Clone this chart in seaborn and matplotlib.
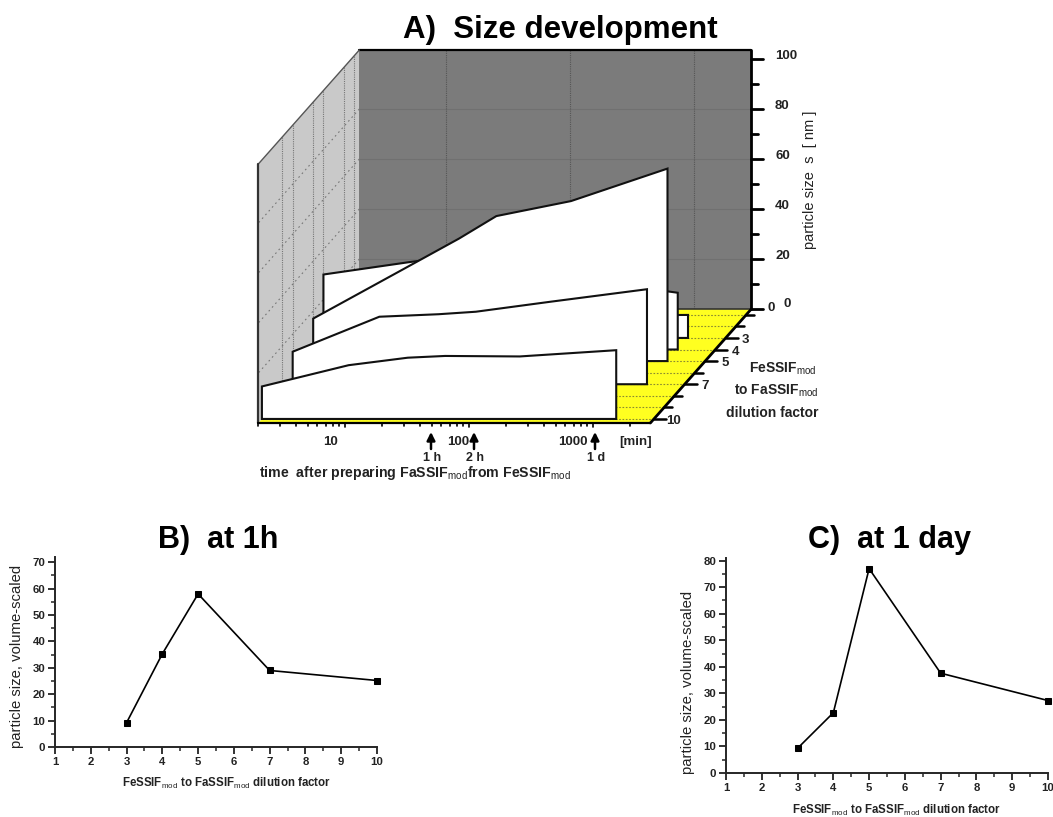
from matplotlib import pyplot as plt
import seaborn as sns
import pandas as pd
import numpy as np

# panel A: particle size over time for each dilution factor
times = [2, 10, 30, 60, 240, 1440]
size_dil3 = [9, 9, 9, 9, 9, 9.2]
size_dil4 = [30, 35, 38, 35, 28, 22.7]
size_dil5 = [17, 36, 49, 58, 64, 77]
size_dil7 = [13, 27, 28, 29, 33, 38]
size_dil10 = [13, 21.5, 24.5, 25.2, 25, 27.5]
dilutions = [3, 4, 5, 7, 10]

# panels B and C
factor = [3, 4, 5, 7, 10]
size_1h = [9.2, 35.3, 58, 29, 25.2]
size_1d = [9.3, 22.7, 77, 37.6, 27.3]

sns.set_style("ticks")
plt.rcParams["font.family"] = ["Liberation Sans", "DejaVu Sans"]
plt.rcParams["mathtext.fontset"] = "custom"
plt.rcParams["mathtext.rm"] = "Liberation Sans"
plt.rcParams["mathtext.bf"] = "Liberation Sans:bold"

T_MIN, T_MAX = 2, 2900
F_BACK, F_FRONT = 0.5, 10.35
S_MAX = 103.6
INK = "#222222"


def project(t, f, s):
    # oblique view of the time / dilution / size box, in figure pixels
    d = (np.asarray(f, dtype=float) - F_BACK) / (F_FRONT - F_BACK)
    x = 446 + 124 * (np.log10(t) - 1) - 101 * d
    y = 309 + 114 * d - 2.5 * np.asarray(s, dtype=float)
    return x, y


def poly(ax, pts, **kw):
    xy = [project(*p) for p in pts]
    ax.fill([p[0] for p in xy], [p[1] for p in xy], **kw)


def seg(ax, a, b, **kw):
    xa, ya = project(*a)
    xb, yb = project(*b)
    ax.plot([xa, xb], [ya, yb], **kw)


fig = plt.figure(figsize=(10.53, 8.17), dpi=100)
ax = fig.add_axes([0, 0, 1, 1])
ax.set_xlim(0, 1053)
ax.set_ylim(817, 0)
ax.axis("off")

# walls and floor
poly(ax, [(T_MIN, F_BACK, 0), (T_MIN, F_FRONT, 0), (T_MIN, F_FRONT, S_MAX), (T_MIN, F_BACK, S_MAX)], fc="#c9c9c9", ec="none", zorder=1)
poly(ax, [(T_MIN, F_BACK, 0), (T_MAX, F_BACK, 0), (T_MAX, F_BACK, S_MAX), (T_MIN, F_BACK, S_MAX)], fc="#7b7b7b", ec="none", zorder=1)
poly(ax, [(T_MIN, F_BACK, 0), (T_MAX, F_BACK, 0), (T_MAX, F_FRONT, 0), (T_MIN, F_FRONT, 0)], fc="#ffff20", ec="none", zorder=1.5)

for s in [20, 40, 60, 80]:
    seg(ax, (T_MIN, F_BACK, s), (T_MAX, F_BACK, s), color="#707070", lw=0.8, zorder=1.2)
    seg(ax, (T_MIN, F_BACK, s), (T_MIN, F_FRONT, s), color="#777777", lw=0.8, ls=(0, (1.5, 3)), zorder=1.2)
for t in [10, 100, 1000]:
    seg(ax, (t, F_BACK, 0), (t, F_BACK, S_MAX), color="#555555", lw=0.8, ls=(0, (1, 1)), zorder=1.2)
for f in [1, 2, 4, 5, 7, 8]:
    seg(ax, (T_MIN, f, 0), (T_MIN, f, S_MAX), color="#777777", lw=0.8, ls=(0, (1, 1)), zorder=1.2)
for f in range(1, 11):
    seg(ax, (T_MIN, f, 0), (T_MAX, f, 0), color="#8a8a30", lw=0.8, ls=(0, (1.5, 1.5)), zorder=1.7)

# frame lines
seg(ax, (T_MIN, F_BACK, S_MAX), (T_MAX, F_BACK, S_MAX), color="black", lw=1.6, zorder=1.8)
seg(ax, (T_MIN, F_BACK, S_MAX), (T_MIN, F_FRONT, S_MAX), color="#555555", lw=1, zorder=1.8)
seg(ax, (T_MIN, F_FRONT, 0), (T_MIN, F_FRONT, S_MAX), color="#333333", lw=1.6, zorder=1.8)
seg(ax, (T_MIN, F_BACK, 0), (T_MAX, F_BACK, 0), color="#333333", lw=1.2, zorder=1.8)
seg(ax, (T_MAX, F_BACK, 0), (T_MAX, F_BACK, S_MAX), color="black", lw=2, zorder=1.8)
seg(ax, (T_MAX, F_BACK, 0), (T_MAX, F_FRONT, 0), color="black", lw=2, zorder=1.8)
seg(ax, (T_MIN, F_FRONT, 0), (T_MAX, F_FRONT, 0), color="black", lw=1.6, zorder=1.8)

# one white sheet per dilution, back to front
sheets = [size_dil3, size_dil4, size_dil5, size_dil7, size_dil10]
for i, (f, values) in enumerate(zip(dilutions, sheets)):
    pts = [(times[0], f, 0)] + [(t, f, s) for t, s in zip(times, values)] + [(times[-1], f, 0)]
    poly(ax, pts, fc="white", ec="#111111", lw=1.5, joinstyle="miter", zorder=3 + i)

# size axis on the back wall
wall_x, _ = project(T_MAX, F_BACK, 0)
for s in range(0, 101, 10):
    _, y = project(T_MAX, F_BACK, s)
    ax.plot([wall_x, wall_x + (12 if s % 20 == 0 else 7)], [y, y], color="black", lw=2)
    if s % 20 == 0:
        label_x = 784 if s == 0 else 775
        ax.text(label_x, y - 3 - (2 if s == 0 else 0), str(s), fontsize=9.5, fontweight="bold", ha="left", va="center", color=INK)
ax.text(771, 308, "0", fontsize=9.5, fontweight="bold", ha="center", va="center", color=INK)
ax.text(810, 180, "particle size  s  [ nm ]", fontsize=10.5, rotation=90, ha="center", va="center", color=INK)

# dilution axis on the floor
for f in range(1, 11):
    x, y = project(T_MAX, f, 0)
    ax.plot([x, x + (12 if f in dilutions else 8)], [y, y], color="black", lw=1.8)
for f in dilutions:
    x, y = project(T_MAX, f, 0)
    ax.text(x + 20, y + 2, str(f), fontsize=9.5, fontweight="bold", ha="center", va="center", color=INK)
ax.text(816, 369, "FeSSIF$_{\\mathrm{mod}}$", fontsize=10, fontweight="bold", ha="right", va="center", color=INK)
ax.text(818, 391, "to FaSSIF$_{\\mathrm{mod}}$", fontsize=10, fontweight="bold", ha="right", va="center", color=INK)
ax.text(818, 413, "dilution factor", fontsize=10, fontweight="bold", ha="right", va="center", color=INK)

# time axis along the front edge
for decade in [1, 10, 100, 1000]:
    for m in range(1, 10):
        t = decade * m
        if T_MIN <= t <= T_MAX:
            x, y = project(t, F_FRONT, 0)
            ax.plot([x, x], [y, y + (4 if m == 1 else 2.5)], color="black", lw=1.2)
for label, x in zip(["10", "100", "1000"], [331, 458, 573]):
    ax.text(x, 442, label, fontsize=9.5, fontweight="bold", ha="center", va="center", color=INK)
ax.text(636, 442, "[min]", fontsize=9.5, fontweight="bold", ha="center", va="center", color=INK)
for label, x in zip(["1 h", "2 h", "1 d"], [431, 474, 595]):
    ax.annotate("", xy=(x, 432), xytext=(x, 449), arrowprops=dict(arrowstyle="-|>", color="black", lw=1.8, mutation_scale=12, shrinkA=0, shrinkB=0))
    ax.text(x + 1, 458, label, fontsize=9, fontweight="bold", ha="center", va="center", color=INK)
ax.text(259, 473, "time  after preparing FaSSIF$_{\\mathrm{mod}}$from FeSSIF$_{\\mathrm{mod}}$", fontsize=10.2, fontweight="bold", ha="left", va="center", color=INK)

# titles
ax.text(560, 30, "A)  Size development", fontsize=22.5, fontweight="bold", ha="center", va="center", color="black")
ax.text(218, 540, "B)  at 1h", fontsize=22, fontweight="bold", ha="center", va="center", color="black")
ax.text(889, 540, "C)  at 1 day", fontsize=22, fontweight="bold", ha="center", va="center", color="black")


def line_panel(box, values, y_max, y_top, y_ticks):
    left, right, top, bottom = box
    a = fig.add_axes([left / 1053, 1 - bottom / 817, (right - left) / 1053, (bottom - top) / 817])
    a.patch.set_alpha(0)
    df = pd.DataFrame({"factor": factor, "size": values})
    sns.lineplot(data=df, x="factor", y="size", color="black", lw=1.2, marker="s", markersize=4.5, mec="black", clip_on=False, ax=a)
    a.set_xlim(1, 10)
    a.set_ylim(0, y_top)
    a.set_xticks(range(1, 11))
    a.set_xticks(np.arange(1.5, 10, 1), minor=True)
    a.set_yticks(y_ticks)
    a.set_yticks(np.arange(5, y_max, 10), minor=True)
    a.tick_params(axis="both", which="major", length=5, width=1.3, labelsize=8.2, pad=2, colors=INK)
    a.tick_params(axis="both", which="minor", length=3, width=1.1)
    for label in a.get_xticklabels() + a.get_yticklabels():
        label.set_fontweight("bold")
    for side in ["top", "right"]:
        a.spines[side].set_visible(False)
    for side in ["left", "bottom"]:
        a.spines[side].set_linewidth(1.4)
    a.set_xlabel("")
    a.set_ylabel("")
    return a


line_panel((55, 377, 557, 747), size_1h, 70, 72, range(0, 71, 10))
line_panel((726, 1048, 558, 773), size_1d, 80, 81, range(0, 81, 10))

ax.text(17, 656, "particle size, volume-scaled", fontsize=10.7, rotation=90, ha="center", va="center", color=INK)
ax.text(688, 682, "particle size, volume-scaled", fontsize=10.7, rotation=90, ha="center", va="center", color=INK)
ax.text(227, 783, "FeSSIF$_{\\mathrm{mod}}$ to FaSSIF$_{\\mathrm{mod}}$ dilution factor", fontsize=8.3, fontweight="bold", ha="center", va="center", color=INK)
ax.text(897, 810, "FeSSIF$_{\\mathrm{mod}}$ to FaSSIF$_{\\mathrm{mod}}$ dilution factor", fontsize=8.3, fontweight="bold", ha="center", va="center", color=INK)

plt.savefig("out.png", dpi=100)
